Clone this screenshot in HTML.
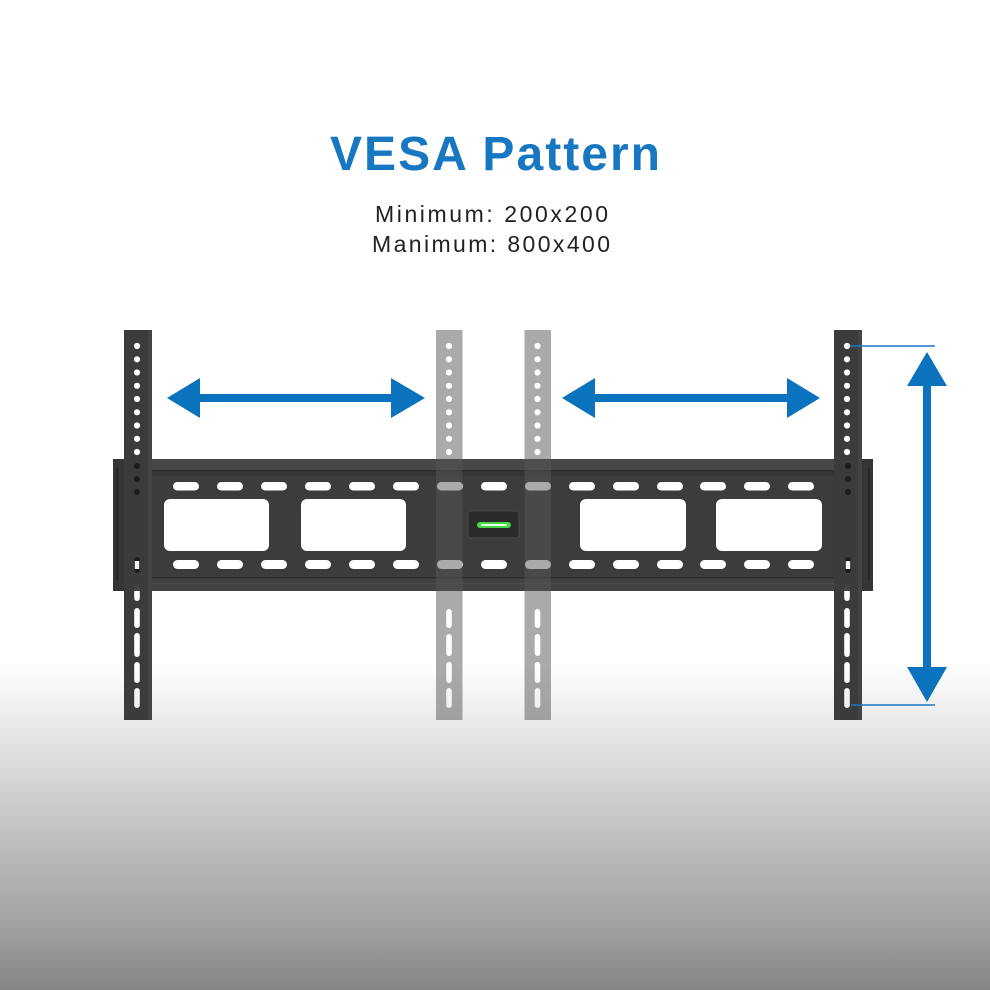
<!DOCTYPE html>
<html><head><meta charset="utf-8"><style>
html,body{margin:0;padding:0;background:#fff;}
svg{display:block;}
</style></head><body>
<svg width="990" height="990" viewBox="0 0 990 990" xmlns="http://www.w3.org/2000/svg">
<defs>
<linearGradient id="bg" x1="0" y1="0" x2="0" y2="1">
<stop offset="0" stop-color="#ffffff"/>
<stop offset="0.23" stop-color="#e5e5e5"/>
<stop offset="0.5" stop-color="#c4c4c4"/>
<stop offset="0.8" stop-color="#a2a2a2"/>
<stop offset="1" stop-color="#858585"/>
</linearGradient>
<mask id="mdark" maskUnits="userSpaceOnUse" x="-5" y="320" width="40" height="410">
<rect x="-5" y="320" width="40" height="410" fill="#fff"/>
<g fill="#000">
<circle cx="13" cy="346" r="3.1"/><circle cx="13" cy="359.3" r="3.1"/><circle cx="13" cy="372.5" r="3.1"/>
<circle cx="13" cy="385.8" r="3.1"/><circle cx="13" cy="399" r="3.1"/><circle cx="13" cy="412.3" r="3.1"/>
<circle cx="13" cy="425.5" r="3.1"/><circle cx="13" cy="438.8" r="3.1"/><circle cx="13" cy="452" r="3.1"/>
<rect x="10.2" y="584" width="5.6" height="17" rx="2.8"/>
<rect x="10.2" y="608" width="5.6" height="20" rx="2.8"/>
<rect x="10.2" y="633" width="5.6" height="24" rx="2.8"/>
<rect x="10.2" y="662" width="5.6" height="21" rx="2.8"/>
<rect x="10.2" y="688" width="5.6" height="20" rx="2.8"/>
</g>
</mask>
<mask id="mgray" maskUnits="userSpaceOnUse" x="-5" y="320" width="40" height="410">
<rect x="-5" y="320" width="40" height="410" fill="#fff"/>
<g fill="#000">
<circle cx="13" cy="346" r="3.1"/><circle cx="13" cy="359.3" r="3.1"/><circle cx="13" cy="372.5" r="3.1"/>
<circle cx="13" cy="385.8" r="3.1"/><circle cx="13" cy="399" r="3.1"/><circle cx="13" cy="412.3" r="3.1"/>
<circle cx="13" cy="425.5" r="3.1"/><circle cx="13" cy="438.8" r="3.1"/><circle cx="13" cy="452" r="3.1"/>
<rect x="10.2" y="609" width="5.6" height="19" rx="2.8"/>
<rect x="10.2" y="634" width="5.6" height="22" rx="2.8"/>
<rect x="10.2" y="662" width="5.6" height="21" rx="2.8"/>
<rect x="10.2" y="688" width="5.6" height="20" rx="2.8"/>
</g>
</mask>
</defs>

<rect x="0" y="0" width="990" height="990" fill="#fff"/>
<rect x="0" y="662" width="990" height="328" fill="url(#bg)"/>

<!-- Title -->
<text x="330" y="170" font-family="Liberation Sans, Arial, sans-serif" font-weight="bold" font-size="48" fill="#1877c1" textLength="330" lengthAdjust="spacing">VESA Pattern</text>
<text x="375" y="222" font-family="Liberation Sans, Arial, sans-serif" font-size="23" fill="#222" textLength="233" lengthAdjust="spacing">Minimum: 200x200</text>
<text x="372" y="252" font-family="Liberation Sans, Arial, sans-serif" font-size="23" fill="#222" textLength="238" lengthAdjust="spacing">Manimum: 800x400</text>

<!-- Plate -->
<g>
<rect x="113" y="459" width="760" height="132" fill="#3c3c3c"/>
<rect x="113" y="459" width="760" height="11" fill="#474747"/>
<rect x="113" y="470" width="760" height="1.5" fill="#2c2c2c"/>
<rect x="113" y="471.5" width="760" height="5" fill="#363636"/>
<rect x="113" y="578" width="760" height="13" fill="#434343"/>
<rect x="113" y="577" width="760" height="1.5" fill="#2e2e2e"/>
<rect x="113" y="583" width="760" height="1" fill="#4c4c4c"/>
<!-- side brackets -->
<rect x="113" y="459" width="11" height="132" fill="#353535"/>
<rect x="116" y="468" width="2" height="112" fill="#252525"/>
<rect x="862" y="459" width="11" height="132" fill="#353535"/>
<rect x="868" y="468" width="2" height="112" fill="#252525"/>
<!-- slots top -->
<g fill="#fff">
<rect x="173" y="482" width="26" height="8.5" rx="4.25"/>
<rect x="217" y="482" width="26" height="8.5" rx="4.25"/>
<rect x="261" y="482" width="26" height="8.5" rx="4.25"/>
<rect x="305" y="482" width="26" height="8.5" rx="4.25"/>
<rect x="349" y="482" width="26" height="8.5" rx="4.25"/>
<rect x="393" y="482" width="26" height="8.5" rx="4.25"/>
<rect x="437" y="482" width="26" height="8.5" rx="4.25"/>
<rect x="481" y="482" width="26" height="8.5" rx="4.25"/>
<rect x="525" y="482" width="26" height="8.5" rx="4.25"/>
<rect x="569" y="482" width="26" height="8.5" rx="4.25"/>
<rect x="613" y="482" width="26" height="8.5" rx="4.25"/>
<rect x="657" y="482" width="26" height="8.5" rx="4.25"/>
<rect x="700" y="482" width="26" height="8.5" rx="4.25"/>
<rect x="744" y="482" width="26" height="8.5" rx="4.25"/>
<rect x="788" y="482" width="26" height="8.5" rx="4.25"/>
<!-- slots bottom -->
<rect x="173" y="560" width="26" height="9" rx="4.5"/>
<rect x="217" y="560" width="26" height="9" rx="4.5"/>
<rect x="261" y="560" width="26" height="9" rx="4.5"/>
<rect x="305" y="560" width="26" height="9" rx="4.5"/>
<rect x="349" y="560" width="26" height="9" rx="4.5"/>
<rect x="393" y="560" width="26" height="9" rx="4.5"/>
<rect x="437" y="560" width="26" height="9" rx="4.5"/>
<rect x="481" y="560" width="26" height="9" rx="4.5"/>
<rect x="525" y="560" width="26" height="9" rx="4.5"/>
<rect x="569" y="560" width="26" height="9" rx="4.5"/>
<rect x="613" y="560" width="26" height="9" rx="4.5"/>
<rect x="657" y="560" width="26" height="9" rx="4.5"/>
<rect x="700" y="560" width="26" height="9" rx="4.5"/>
<rect x="744" y="560" width="26" height="9" rx="4.5"/>
<rect x="788" y="560" width="26" height="9" rx="4.5"/>
<!-- windows -->
<rect x="164" y="499" width="105" height="52" rx="6"/>
<rect x="301" y="499" width="105" height="52" rx="6"/>
<rect x="580" y="499" width="106" height="52" rx="6"/>
<rect x="716" y="499" width="106" height="52" rx="6"/>
</g>
<!-- level -->
<rect x="468" y="511" width="51" height="27" rx="3" fill="#2b2b2b" stroke="#4a4a4a" stroke-width="1"/>
<rect x="477" y="522" width="34" height="6" rx="3" fill="#45d845"/>
<rect x="481" y="524" width="26" height="2" rx="1" fill="#e8ffe8"/>
</g>

<!-- Gray bars (translucent) -->
<g transform="translate(436,0)">
<rect x="0" y="330" width="26.5" height="390" fill="#555" fill-opacity="0.5" mask="url(#mgray)"/>
</g>
<g transform="translate(524.5,0)">
<rect x="0" y="330" width="26.5" height="390" fill="#555" fill-opacity="0.5" mask="url(#mgray)"/>
</g>

<!-- Dark bars -->
<g transform="translate(124,0)">
<rect x="0" y="330" width="28" height="390" fill="#3b3b3b" mask="url(#mdark)"/>
<rect x="24" y="330" width="4" height="390" fill="#444" mask="url(#mdark)"/>
<circle cx="13" cy="466" r="3" fill="#1c1c1c"/>
<circle cx="13" cy="479" r="3" fill="#1c1c1c"/>
<circle cx="13" cy="492" r="3" fill="#1c1c1c"/>
<rect x="10.2" y="557" width="5.6" height="16" rx="2.8" fill="#1c1c1c"/>
<rect x="10.8" y="561" width="4.4" height="8" fill="#f2f2f2"/>
</g>
<g transform="translate(834,0)">
<rect x="0" y="330" width="28" height="390" fill="#3b3b3b" mask="url(#mdark)"/>
<rect x="24" y="330" width="4" height="390" fill="#444" mask="url(#mdark)"/>
<circle cx="14" cy="466" r="3" fill="#1c1c1c"/>
<circle cx="14" cy="479" r="3" fill="#1c1c1c"/>
<circle cx="14" cy="492" r="3" fill="#1c1c1c"/>
<rect x="11.2" y="557" width="5.6" height="16" rx="2.8" fill="#1c1c1c"/>
<rect x="11.8" y="561" width="4.4" height="8" fill="#f2f2f2"/>
</g>

<!-- Arrows -->
<g fill="#0b72bd">
<rect x="198" y="394" width="195" height="8"/>
<polygon points="167,398 200,378 200,418"/>
<polygon points="425,398 391,378 391,418"/>
<rect x="593" y="394" width="196" height="8"/>
<polygon points="562,398 595,378 595,418"/>
<polygon points="820,398 787,378 787,418"/>
<rect x="923" y="384" width="8" height="285"/>
<polygon points="927,352 907,386 947,386"/>
<polygon points="927,702 907,667 947,667"/>
</g>
<line x1="850" y1="346" x2="935" y2="346" stroke="#1a77c0" stroke-width="1.5"/>
<line x1="851" y1="705" x2="935" y2="705" stroke="#1a77c0" stroke-width="1.5"/>
</svg>
</body></html>
